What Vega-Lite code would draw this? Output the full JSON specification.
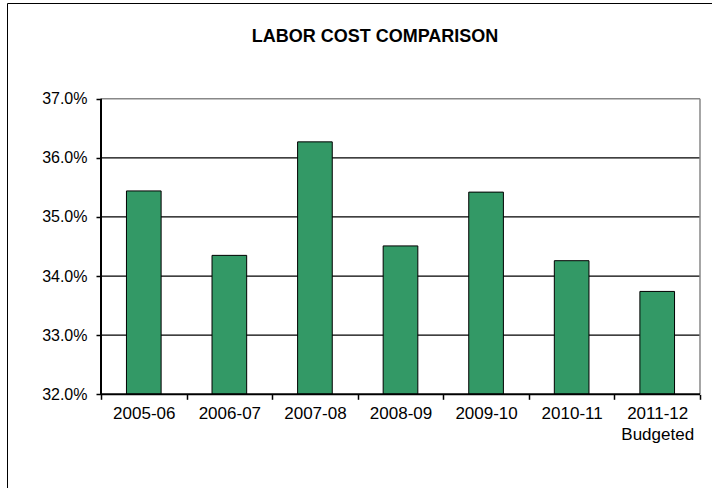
{
  "$schema": "https://vega.github.io/schema/vega-lite/v6.json",
  "width": 705,
  "height": 485,
  "autosize": {"type": "none"},
  "padding": {"left": 7, "top": 3, "right": 0, "bottom": 0},
  "background": "white",
  "config": {
    "view": {"stroke": null},
    "font": "Liberation Sans",
    "axis": {"labelFont": "Liberation Sans"}
  },
  "title": {
    "text": "LABOR COST COMPARISON",
    "font": "Liberation Sans",
    "fontSize": 18,
    "fontWeight": "bold",
    "color": "#000",
    "anchor": "middle",
    "baseline": "alphabetic",
    "dx": 15.5,
    "offset": -57
  },
  "data": {
    "values": [
      {"period": "2005-06", "value": 35.44},
      {"period": "2006-07", "value": 34.35},
      {"period": "2007-08", "value": 36.27},
      {"period": "2008-09", "value": 34.51},
      {"period": "2009-10", "value": 35.42},
      {"period": "2010-11", "value": 34.26},
      {"period": "2011-12 Budgeted", "value": 33.74}
    ]
  },
  "layer": [
    {
      "data": {"values": [{"g": 33}, {"g": 34}, {"g": 35}, {"g": 36}]},
      "mark": {"type": "rule", "color": "#000", "strokeWidth": 1.2},
      "encoding": {
        "y": {
          "field": "g",
          "type": "quantitative",
          "axis": {"orient": "left", "offset": 0, "domain": true, "domainColor": "#000", "domainWidth": 1, "ticks": false, "labels": false, "grid": false, "title": null}
        },
        "x": {
          "datum": "2005-06",
          "type": "nominal",
          "bandPosition": 0,
          "axis": {"orient": "top", "domain": true, "domainColor": "#000", "domainWidth": 1, "ticks": false, "labels": false, "grid": false, "title": null}
        },
        "x2": {"datum": "2011-12 Budgeted", "bandPosition": 1}
      }
    },
    {
      "data": {"values": [{}]},
      "mark": {"type": "rule", "color": "#888888", "strokeWidth": 1.5},
      "encoding": {
        "y": {"datum": 37, "type": "quantitative", "axis": null},
        "x": {"datum": "2005-06", "type": "nominal", "bandPosition": 0, "axis": null},
        "x2": {"datum": "2011-12 Budgeted", "bandPosition": 1}
      }
    },
    {
      "data": {"values": [{}]},
      "mark": {"type": "rule", "color": "#888888", "strokeWidth": 1.5},
      "encoding": {
        "x": {"datum": "2011-12 Budgeted", "type": "nominal", "bandPosition": 1, "axis": null},
        "y": {"datum": 32, "type": "quantitative", "axis": null},
        "y2": {"datum": 37}
      }
    },
    {
      "mark": {"type": "bar", "fill": "#339966", "stroke": "#000", "strokeWidth": 1, "width": {"band": 0.405}},
      "encoding": {
        "x": {
          "field": "period",
          "type": "nominal",
          "sort": null,
          "scale": {
            "domain": ["2005-06", "2006-07", "2007-08", "2008-09", "2009-10", "2010-11", "2011-12 Budgeted"],
            "paddingInner": 0,
            "paddingOuter": 0.61937,
            "align": 0.88679
          },
          "axis": {
            "orient": "bottom",
            "offset": -93.7,
            "domain": false,
            "tickBand": "extent",
            "ticks": true,
            "tickSize": 5,
            "tickColor": "#000",
            "tickWidth": 1.5,
            "labelAngle": 0,
            "labelFontSize": 17,
            "labelColor": "#000",
            "labelPadding": 6,
            "labelLineHeight": 21,
            "labelExpr": "split(datum.label, ' ')",
            "grid": false,
            "title": null
          }
        },
        "y": {
          "field": "value",
          "type": "quantitative",
          "scale": {"domain": [30.415, 38.619], "nice": false, "zero": false},
          "axis": {
            "orient": "left",
            "offset": -94,
            "domain": false,
            "values": [32, 33, 34, 35, 36, 37],
            "tickSize": 5,
            "tickColor": "#000",
            "tickWidth": 1.5,
            "labelFontSize": 16,
            "labelColor": "#000",
            "labelPadding": 9,
            "labelExpr": "format(datum.value, '.1f') + '%'",
            "grid": false,
            "title": null
          }
        },
        "y2": {"datum": 32}
      }
    },
    {
      "data": {"values": [{}]},
      "mark": {"type": "rule", "color": "#000", "strokeWidth": 2},
      "encoding": {
        "x": {"datum": "2005-06", "type": "nominal", "bandPosition": 0, "axis": null},
        "y": {"datum": 32, "type": "quantitative", "axis": null},
        "y2": {"datum": 37}
      }
    },
    {
      "data": {"values": [{}]},
      "mark": {"type": "rule", "color": "#000", "strokeWidth": 2},
      "encoding": {
        "y": {"datum": 32, "type": "quantitative", "axis": null},
        "x": {"datum": "2005-06", "type": "nominal", "bandPosition": 0, "axis": null},
        "x2": {"datum": "2011-12 Budgeted", "bandPosition": 1}
      }
    }
  ],
  "resolve": {"axis": {"x": "independent", "y": "independent"}}
}
